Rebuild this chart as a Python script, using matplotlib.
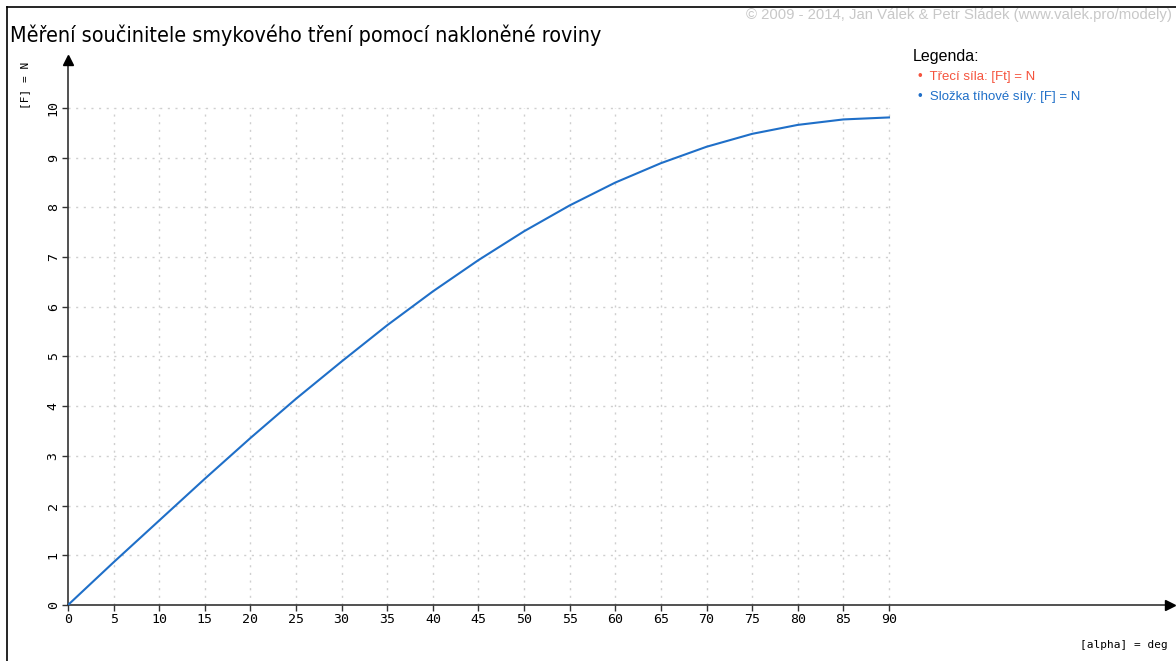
import matplotlib.pyplot as plt

# uhel naklonu [deg] a slozka tihove sily [N]
alpha = [0, 5, 10, 15, 20, 25, 30, 35, 40, 45, 50, 55, 60, 65, 70, 75, 80, 85, 90]
sila = [0.0, 0.86, 1.70, 2.54, 3.36, 4.15, 4.90, 5.63, 6.31, 6.94, 7.52, 8.04,
        8.50, 8.89, 9.22, 9.48, 9.66, 9.77, 9.81]
x_ticks = list(range(0, 95, 5))
y_ticks = list(range(0, 11))

modra = '#1f6fc8'
cervena = '#f5533d'

fig = plt.figure(figsize=(11.76, 6.61), dpi=100)
ax = fig.add_axes([68 / 1176, 56 / 661, 1102 / 1176, 545 / 661])
ax.set_xlim(0, 1102 / 9.122)
ax.set_ylim(0, 545 / 49.7)

for s in ax.spines.values():
    s.set_visible(False)

# mrizka jen do 90 stupnu a 10 N
for x in x_ticks[1:]:
    ax.plot([x, x], [0, 10], color='#cfcfcf', lw=1, ls=(0, (1.5, 4)), zorder=1)
for y in y_ticks[1:]:
    ax.plot([0, 90], [y, y], color='#cfcfcf', lw=1, ls=(0, (1.5, 4)), zorder=1)

# osy se sipkami
xmax = ax.get_xlim()[1]
ymax = ax.get_ylim()[1]
ax.plot([0, xmax], [0, 0], color='#333333', lw=1.2, clip_on=False, zorder=3)
ax.plot([0, 0], [0, ymax], color='#333333', lw=1.2, clip_on=False, zorder=3)
ax.plot([xmax], [0], marker='>', color='black', ms=7, clip_on=False, zorder=4)
ax.plot([0], [ymax], marker='^', color='black', ms=7, clip_on=False, zorder=4)

ax.plot(alpha, sila, color=modra, lw=1.5, zorder=5)

ax.set_xticks(x_ticks)
ax.set_yticks(y_ticks)
ax.tick_params(length=4, width=1, color='#333333', labelsize=9.5, pad=2)
for t in ax.get_xticklabels():
    t.set_family('DejaVu Sans Mono')
for t in ax.get_yticklabels():
    t.set_family('DejaVu Sans Mono')
    t.set_rotation(90)
    t.set_va('center')

# popisky os
fig.text(25 / 1176, 1 - 85 / 661, '[F] = N', rotation=90, ha='center', va='center',
         family='DejaVu Sans Mono', fontsize=8)
fig.text(1168 / 1176, 1 - 645 / 661, '[alpha] = deg', ha='right', va='center',
         family='DejaVu Sans Mono', fontsize=8)

# nadpis a copyright
fig.text(10 / 1176, 1 - 35 / 661, 'Měření součinitele smykového tření pomocí nakloněné roviny',
         ha='left', va='center', fontsize=15.4, family='DejaVu Sans', fontstretch='condensed')
fig.text(1172 / 1176, 1 - 15 / 661,
         '© 2009 - 2014, Jan Válek & Petr Sládek (www.valek.pro/modely)',
         ha='right', va='center', fontsize=10.7, color='#c8c8c8', family='Liberation Sans')

# legenda
fig.text(913 / 1176, 1 - 57 / 661, 'Legenda:', ha='left', va='center', fontsize=11.5,
         family='Liberation Sans')
fig.text(918 / 1176, 1 - 77 / 661, '•  Třecí síla: [Ft] = N', ha='left', va='center',
         fontsize=9.5, color=cervena, family='Liberation Sans')
fig.text(918 / 1176, 1 - 97 / 661, '•  Složka tíhové síly: [F] = N', ha='left', va='center',
         fontsize=9.5, color=modra, family='Liberation Sans')

# ramecek vlevo a nahore
fig.add_artist(plt.Line2D([7 / 1176, 7 / 1176], [0, 1 - 7 / 661], color='black', lw=1.2))
fig.add_artist(plt.Line2D([7 / 1176, 1], [1 - 7 / 661, 1 - 7 / 661], color='black', lw=1.2))

fig.savefig('out.png', dpi=100)
